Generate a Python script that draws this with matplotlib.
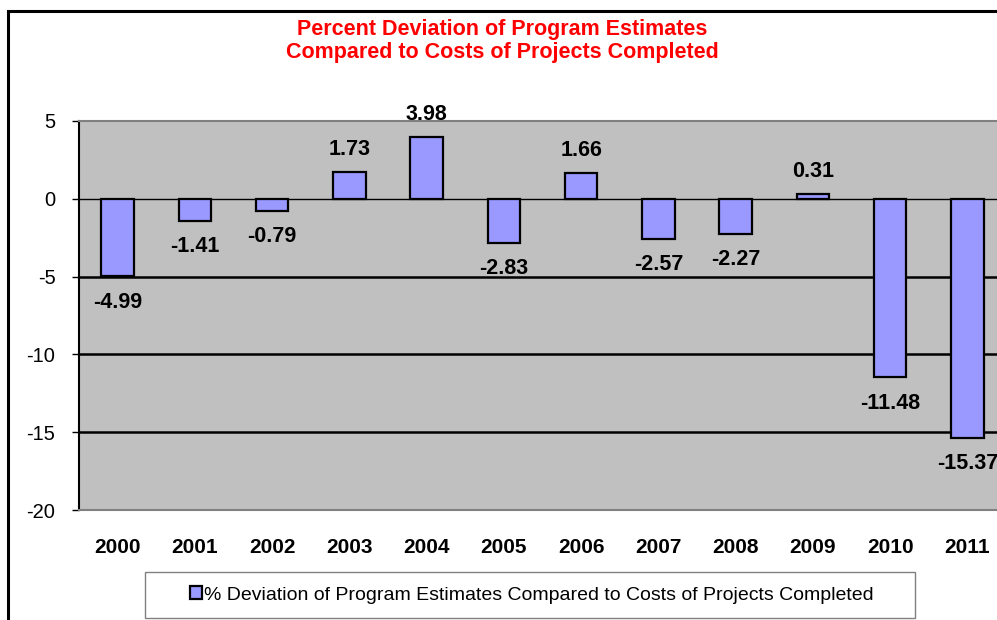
import matplotlib.pyplot as plt
from matplotlib.patches import Rectangle

plt.rcParams['font.family'] = ['Liberation Sans', 'DejaVu Sans']
plt.rcParams['axes.unicode_minus'] = False

years = ['2000', '2001', '2002', '2003', '2004', '2005',
         '2006', '2007', '2008', '2009', '2010', '2011']
deviation = [-4.99, -1.41, -0.79, 1.73, 3.98, -2.83,
             1.66, -2.57, -2.27, 0.31, -11.48, -15.37]
series_name = '% Deviation of Program Estimates Compared to Costs of Projects Completed'
title = 'Percent Deviation of Program Estimates\nCompared to Costs of Projects Completed'

fig = plt.figure(figsize=(9.97, 6.2), dpi=100)

# outer chart frame (runs off the right/bottom edge)
fig.patches.append(Rectangle((8 / 997, -0.1), 1.2, 1 - 11 / 620 + 0.1,
                             transform=fig.transFigure, fill=False,
                             edgecolor='black', linewidth=2.2, zorder=0))

ax = fig.add_axes([79 / 997, 1 - 510 / 620, 927 / 997, 389 / 620])
ax.set_facecolor('#C0C0C0')

x = list(range(len(years)))
bars = ax.bar(x, deviation, width=0.42, color='#9999FF', edgecolor='black',
              linewidth=1.6, zorder=3, label=series_name)

ax.set_ylim(-20, 5)
ax.set_xlim(-0.5, len(years) - 0.5)
ax.set_yticks([5, 0, -5, -10, -15, -20])
ax.set_xticks(x)
ax.set_xticklabels(years, fontweight='bold', fontsize=15)
ax.tick_params(axis='x', length=0, pad=20)
ax.tick_params(axis='y', length=5, width=1, labelsize=14.5, pad=12)

# horizontal gridlines
for v in [-5, -10, -15]:
    ax.axhline(v, color='black', linewidth=1.8, zorder=1)
ax.axhline(0, color='black', linewidth=1.0, zorder=2)

for side in ['top', 'bottom', 'right']:
    ax.spines[side].set_color('#808080')
    ax.spines[side].set_linewidth(1.5)
ax.spines['left'].set_color('black')
ax.spines['left'].set_linewidth(1.5)

# value labels; negative ones sit under the gridlines
for xi, v in zip(x, deviation):
    pos = v >= 0
    ax.annotate(f'{v:.2f}', xy=(xi, v), xytext=(0, 8.5 if pos else -11),
                textcoords='offset points', ha='center',
                va='bottom' if pos else 'top', fontsize=15.5, fontweight='bold',
                zorder=4 if pos else 0.5, annotation_clip=False)

fig.text(502 / 997, 1 - 41 / 620, title, ha='center', va='center',
         color='#FF0000', fontsize=15.5, fontweight='bold', linespacing=1.1)

# legend box
fig.patches.append(Rectangle((145 / 997, 2 / 620), 770 / 997, 46 / 620,
                             transform=fig.transFigure, facecolor='white',
                             edgecolor='#808080', linewidth=1.0, zorder=1))
leg = fig.legend(handles=[bars], loc='center', bbox_to_anchor=(532 / 997, 1 - 595 / 620),
                 fontsize=14, frameon=False, handlelength=0.6, handleheight=0.6,
                 handletextpad=0.15, borderaxespad=0)

fig.savefig('out.png', dpi=100)
